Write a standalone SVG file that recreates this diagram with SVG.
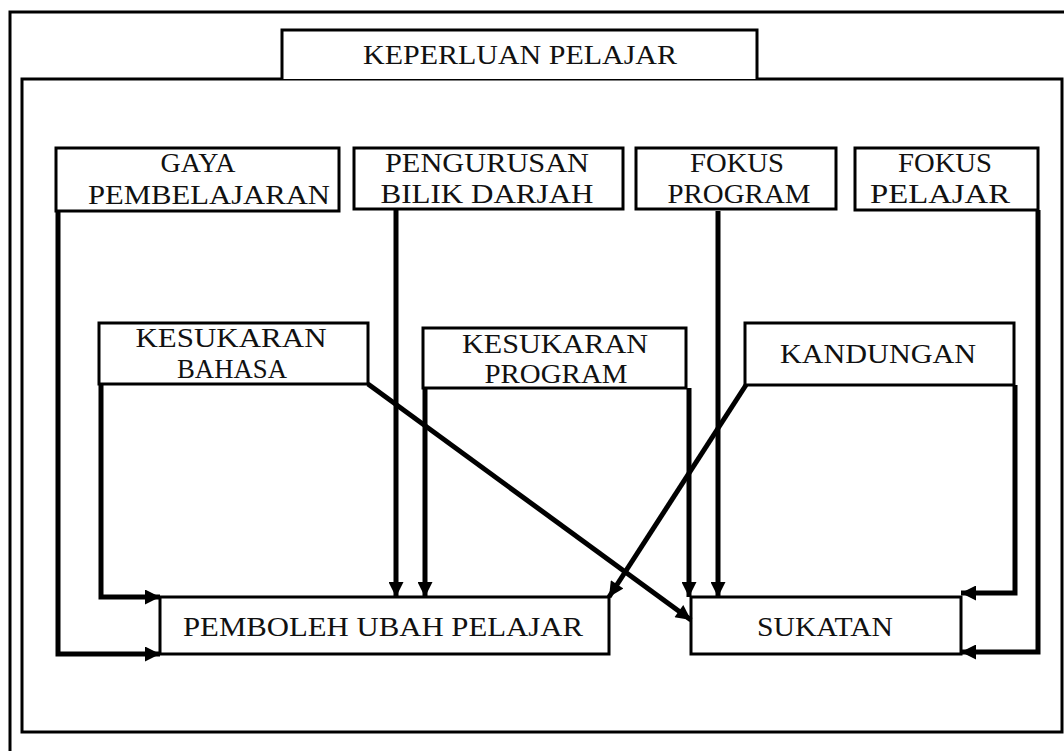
<svg xmlns="http://www.w3.org/2000/svg" width="1064" height="751" viewBox="0 0 1064 751">
<style>
.box{fill:#fff;stroke:#000;stroke-width:3}
.frame{fill:none;stroke:#000;stroke-width:3}
.t{font-family:"Liberation Serif","Times New Roman",serif;font-size:27px;fill:#111;text-anchor:middle}
.c{fill:none;stroke:#000;stroke-width:5;stroke-linejoin:miter}
</style>
<defs>
<marker id="ah" viewBox="0 0 10 10" refX="10" refY="5" markerWidth="3.4" markerHeight="3.0" orient="auto" markerUnits="strokeWidth">
<path d="M0,0 L10,5 L0,10 z" fill="#000"/>
</marker>
</defs>
<rect width="1064" height="751" fill="#fff"/>
<g id="outer-frame">
<path class="frame" d="M10,751 V12 H1064"/>
<rect class="frame" x="22" y="79" width="1040" height="653"/>
</g>
<g id="keperluan">
<path class="box" d="M282,79 V30 H757 V79"/>
<text class="t" x="520" y="64" textLength="314" lengthAdjust="spacingAndGlyphs">KEPERLUAN PELAJAR</text>
</g>
<g id="gaya">
<rect class="box" x="56" y="148" width="283" height="63"/>
<text class="t" x="198" y="172" textLength="75" lengthAdjust="spacingAndGlyphs">GAYA</text>
<text class="t" x="209" y="204" textLength="242" lengthAdjust="spacingAndGlyphs">PEMBELAJARAN</text>
</g>
<g id="pengurusan">
<rect class="box" x="354" y="148" width="269" height="61"/>
<text class="t" x="487" y="172" textLength="204" lengthAdjust="spacingAndGlyphs">PENGURUSAN</text>
<text class="t" x="487" y="203" textLength="213" lengthAdjust="spacingAndGlyphs">BILIK DARJAH</text>
</g>
<g id="fokus-program">
<rect class="box" x="636" y="148" width="200" height="61"/>
<text class="t" x="737" y="172" textLength="94" lengthAdjust="spacingAndGlyphs">FOKUS</text>
<text class="t" x="739" y="203" textLength="143" lengthAdjust="spacingAndGlyphs">PROGRAM</text>
</g>
<g id="fokus-pelajar">
<rect class="box" x="855" y="148" width="183" height="62"/>
<text class="t" x="945" y="172" textLength="94" lengthAdjust="spacingAndGlyphs">FOKUS</text>
<text class="t" x="940" y="203" textLength="140" lengthAdjust="spacingAndGlyphs">PELAJAR</text>
</g>
<g id="kesukaran-bahasa">
<rect class="box" x="99" y="323" width="269" height="61"/>
<text class="t" x="231" y="347" textLength="191" lengthAdjust="spacingAndGlyphs">KESUKARAN</text>
<text class="t" x="232" y="378" textLength="110" lengthAdjust="spacingAndGlyphs">BAHASA</text>
</g>
<g id="kesukaran-program">
<rect class="box" x="423" y="328" width="263" height="60"/>
<text class="t" x="555" y="353" textLength="186" lengthAdjust="spacingAndGlyphs">KESUKARAN</text>
<text class="t" x="556" y="383" textLength="143" lengthAdjust="spacingAndGlyphs">PROGRAM</text>
</g>
<g id="kandungan">
<rect class="box" x="745" y="323" width="269" height="62"/>
<text class="t" x="878" y="363" textLength="196" lengthAdjust="spacingAndGlyphs">KANDUNGAN</text>
</g>
<g id="pemboleh">
<rect class="box" x="160" y="597" width="449" height="57"/>
<text class="t" x="383" y="636" textLength="400" lengthAdjust="spacingAndGlyphs">PEMBOLEH UBAH PELAJAR</text>
</g>
<g id="sukatan">
<rect class="box" x="691" y="597" width="270" height="57"/>
<text class="t" x="825" y="636" textLength="136" lengthAdjust="spacingAndGlyphs">SUKATAN</text>
</g>
<g id="connectors">
<path class="c" marker-end="url(#ah)" d="M58,211 V654 H160"/>
<path class="c" marker-end="url(#ah)" d="M101,384 V597 H160"/>
<path class="c" marker-end="url(#ah)" d="M396,209 V597"/>
<path class="c" marker-end="url(#ah)" d="M425,388 V597"/>
<path class="c" marker-end="url(#ah)" d="M689,388 V597"/>
<path class="c" marker-end="url(#ah)" d="M718,211 V597"/>
<path class="c" marker-end="url(#ah)" d="M1015,385 V593 H961"/>
<path class="c" marker-end="url(#ah)" d="M1038,210 V652 H961"/>
<path class="c" marker-end="url(#ah)" d="M368,384 L691,620"/>
<path class="c" marker-end="url(#ah)" d="M746,385 L609,597"/>
</g>
</svg>
